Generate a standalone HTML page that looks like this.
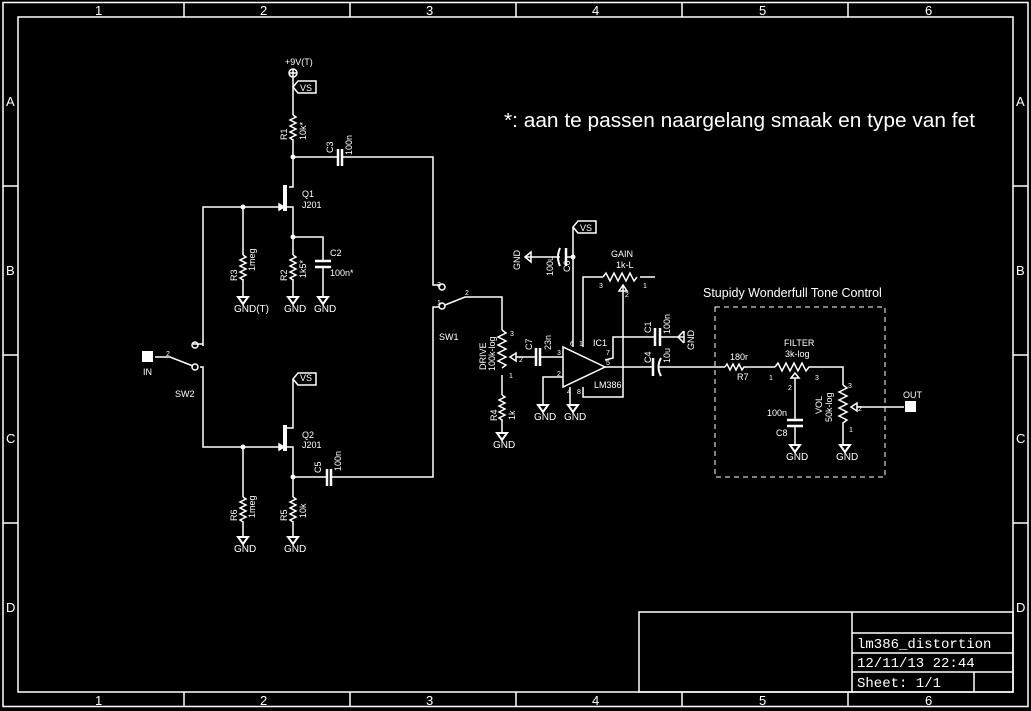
<!DOCTYPE html>
<html><head><meta charset="utf-8"><style>
html,body{margin:0;padding:0;background:#000;}
svg{display:block;font-size:9px}
text{fill:#fff;font-family:"Liberation Sans",sans-serif}
.m{font-family:"Liberation Mono",monospace}
</style></head><body>
<svg width="1031" height="711" viewBox="0 0 1031 711" xmlns="http://www.w3.org/2000/svg">
<defs>
<path id="tri" d="M-5,0 L5,0 L0,7 Z" fill="none" stroke="#fff" stroke-width="2"/>
<g id="gnd"><use href="#tri"/><text x="-9" y="15" font-size="10">GND</text></g>
<path id="rv" d="M0,0 l3,2 l-6,3 l6,3 l-6,3 l6,3 l-6,3 l6,3 l-6,3 l3,2" fill="none" stroke="#fff" stroke-width="1.5"/>
</defs>
<g stroke="#fff" fill="none" stroke-width="1.5">
<rect x="3" y="2.5" width="1025" height="704"/>
<rect x="18" y="17" width="995" height="675"/>
<path d="M184,3V17M350,3V17M516,3V17M682,3V17M848,3V17M184,692V707M350,692V707M516,692V707M682,692V707M848,692V707M3,186H18M3,355H18M3,523H18M1013,186H1028M1013,355H1028M1013,523H1028"/>
<rect x="639" y="612" width="374" height="80"/>
<path d="M852,612V692M852,633H1013M852,653H1013M852,672H1013M974,672V692"/>
</g>
<g>
<text x="95" y="15" font-size="13">1</text><text x="260" y="15" font-size="13">2</text><text x="426" y="15" font-size="13">3</text><text x="592" y="15" font-size="13">4</text><text x="759" y="15" font-size="13">5</text><text x="925" y="15" font-size="13">6</text>
<text x="95" y="705" font-size="13">1</text><text x="260" y="705" font-size="13">2</text><text x="426" y="705" font-size="13">3</text><text x="592" y="705" font-size="13">4</text><text x="759" y="705" font-size="13">5</text><text x="925" y="705" font-size="13">6</text>
<text x="6" y="106" font-size="13">A</text><text x="6" y="275" font-size="13">B</text><text x="6" y="443" font-size="13">C</text><text x="6" y="612" font-size="13">D</text>
<text x="1016" y="106" font-size="13">A</text><text x="1016" y="275" font-size="13">B</text><text x="1016" y="443" font-size="13">C</text><text x="1016" y="612" font-size="13">D</text>
</g>
<text class="m" x="857" y="648" font-size="14">lm386_distortion</text>
<text class="m" x="857" y="667" font-size="14">12/11/13 22:44</text>
<text class="m" x="857" y="687" font-size="14">Sheet: 1/1</text>

<text x="504" y="127" font-size="20" textLength="471" lengthAdjust="spacingAndGlyphs">*: aan te passen naargelang smaak en type van fet</text>
<text x="703" y="297" font-size="12.5">Stupidy Wonderfull Tone Control</text>

<g stroke="#fff" fill="none" stroke-width="1.5">
<circle cx="293" cy="73" r="4"/><path d="M289,73H297M293,69V77"/>
<path d="M293,77V115M293,139V187H289"/>
<path d="M293,87L298,81H316V93H298Z"/>
<path d="M293,157H338M342,157H433V285H439"/>
<path d="M338,149V166M342,149V166" stroke-width="2.5"/>
<path d="M285,185V211" stroke-width="4"/>
<path d="M203,346V207H279M287,207H293V255M293,279V297M293,237H323V261M323,267V297"/>
<path d="M315,261H331M315,267H331" stroke-width="2.5"/>
<path d="M243,207V255M243,279V297"/>
<path d="M279,204L284,207L279,210Z" fill="#fff"/>
<path d="M285,425V451" stroke-width="4"/>
<path d="M287,428H293V379M293,379L298,373H316V385H298Z"/>
<path d="M200,367H203V447H279M287,447H293V497M293,521V537M293,477H327M331,477H433V307H439"/>
<path d="M327,469V486M331,469V486" stroke-width="2.5"/>
<path d="M279,444L284,447L279,450Z" fill="#fff"/>
<path d="M243,447V497M243,521V537"/>
<path d="M193,344L203,344M155,357H170L193,366"/>
<circle cx="195" cy="345" r="3"/><circle cx="195" cy="367" r="3"/>
<circle cx="442" cy="287" r="3"/><circle cx="442" cy="306" r="3"/>
<path d="M445,305L465,297H502V330M502,375V395M502,419V433"/>
<path d="M502,330 l4,3 l-8,4 l8,4 l-8,4 l8,4 l-8,4 l8,4 l-8,4 l8,4 l-4,3" />
<path d="M510,357l6,-4v8z"/>
<path d="M516,357H536M540,357H563"/>
<path d="M536,348V366M540,348V366" stroke-width="2.5"/>
<path d="M563,347V387L605,367Z"/>
<path d="M563,377H543V405M570,387V405M573,347V227M573,227L578,221H596V233H578Z"/>
<path d="M573,257H566M560,257H525"/>
<path d="M566,248V266" stroke-width="2.5"/><path d="M560,248Q556,257 560,266" stroke-width="2"/>
<path d="M525,257l6,-5v10z"/>
<path d="M583,347V277H603M640,277H655"/>
<path d="M603,277 l3,-4 l4,8 l4,-8 l4,8 l4,-8 l4,8 l4,-8 l4,8 l3,-4"/>
<path d="M623,285V397H583V387M623,285l-4,6h8z"/>
<path d="M605,360L613,358V337H655M660,337H684M684,331V343M684,331L678,337L684,343"/>
<path d="M655,328V346M660,328V346" stroke-width="2.5"/>
<path d="M605,367H653M659,367H725"/>
<path d="M653,358V376" stroke-width="2.5"/><path d="M661,358Q656,367 661,376" stroke-width="2"/>
<rect x="715" y="307" width="170" height="170" stroke-dasharray="5,4" stroke-width="1"/>
<path d="M725,367 l2,-3 l3,6 l3,-6 l3,6 l3,-6 l3,6 l2,-3H775"/>
<path d="M775,367 l3,-4 l4,8 l4,-8 l4,8 l4,-8 l4,8 l4,-8 l4,8 l3,-4H843V385"/>
<path d="M795,373l-4,5h8zM795,378V420M795,426V445"/>
<path d="M787,420H803M787,426H803" stroke-width="2.5"/>
<path d="M843,385 l4,3 l-8,4 l8,4 l-8,4 l8,4 l-8,4 l8,4 l-8,4 l8,4 l-4,3V445"/>
<path d="M851,407l6,-4v8zM857,407H904"/>
</g>
<rect x="142" y="351" width="11" height="11" fill="#fff"/>
<rect x="905" y="401" width="11" height="11" fill="#fff"/>
<use href="#rv" x="293" y="115"/><use href="#rv" x="293" y="255"/><use href="#rv" x="243" y="255"/>
<use href="#rv" x="293" y="497"/><use href="#rv" x="243" y="497"/><use href="#rv" x="502" y="395"/>
<g fill="#fff">
<circle cx="293" cy="157" r="2.5"/><circle cx="243" cy="207" r="2.5"/><circle cx="293" cy="237" r="2.5"/>
<circle cx="243" cy="447" r="2.5"/><circle cx="293" cy="477" r="2.5"/><circle cx="573" cy="257" r="2.5"/>
</g>
<use href="#tri" x="243" y="297"/><use href="#gnd" x="293" y="297"/><use href="#gnd" x="323" y="297"/>
<use href="#gnd" x="243" y="537"/><use href="#gnd" x="293" y="537"/><use href="#gnd" x="502" y="433"/>
<use href="#gnd" x="543" y="405"/><use href="#gnd" x="573" y="405"/><use href="#gnd" x="795" y="445"/><use href="#gnd" x="845" y="445"/>
<text x="285" y="65">+9V(T)</text><text x="300" y="91">VS</text><text x="300" y="381">VS</text><text x="580" y="231">VS</text>
<text transform="translate(287,140) rotate(-90)">R1</text><text transform="translate(306,140) rotate(-90)">10k*</text>
<text transform="translate(333,153) rotate(-90)">C3</text><text transform="translate(352,155) rotate(-90)">100n</text>
<text x="302" y="197">Q1</text><text x="302" y="208">J201</text>
<text x="330" y="256">C2</text><text x="330" y="276">100n*</text>
<text transform="translate(237,281) rotate(-90)">R3</text><text transform="translate(255,271) rotate(-90)">1meg</text>
<text transform="translate(287,281) rotate(-90)">R2</text><text transform="translate(306,278) rotate(-90)">1k5*</text>
<text x="234" y="312" font-size="10">GND(T)</text>
<text x="302" y="438">Q2</text><text x="302" y="448">J201</text>
<text transform="translate(321,473) rotate(-90)">C5</text><text transform="translate(341,471) rotate(-90)">100n</text>
<text transform="translate(237,521) rotate(-90)">R6</text><text transform="translate(255,518) rotate(-90)">1meg</text>
<text transform="translate(287,521) rotate(-90)">R5</text><text transform="translate(306,518) rotate(-90)">10k</text>
<text x="143" y="375">IN</text><text x="166" y="356" font-size="7">2</text><text x="175" y="397">SW2</text>
<text x="439" y="340">SW1</text><text x="437" y="287" font-size="7">3</text><text x="437" y="305" font-size="7">1</text><text x="465" y="295" font-size="7">2</text>
<text transform="translate(486,370) rotate(-90)">DRIVE</text><text transform="translate(495,371) rotate(-90)">100k-log</text>
<text x="510" y="336" font-size="7">3</text><text x="519" y="362" font-size="7">2</text><text x="509" y="378" font-size="7">1</text>
<text transform="translate(497,421) rotate(-90)">R4</text><text transform="translate(515,420) rotate(-90)">1k</text>
<text transform="translate(532,350) rotate(-90)">C7</text><text transform="translate(551,350) rotate(-90)">23n</text>
<text transform="translate(520,270) rotate(-90)">GND</text>
<text transform="translate(553,276) rotate(-90)">100u</text><text transform="translate(570,272) rotate(-90)">C6</text>
<text x="611" y="257">GAIN</text><text x="616" y="268">1k-L</text>
<text x="599" y="288" font-size="7">3</text><text x="643" y="288" font-size="7">1</text><text x="625" y="297" font-size="7">2</text>
<text x="593" y="346">IC1</text><text x="594" y="388">LM386</text>
<text x="606" y="355" font-size="7">7</text><text x="606" y="365" font-size="7">5</text><text x="557" y="355" font-size="7">3</text><text x="557" y="376" font-size="7">2</text><text x="579" y="346" font-size="7">1</text><text x="570" y="346" font-size="7">6</text><text x="567" y="394" font-size="7">4</text><text x="577" y="394" font-size="7">8</text>
<text transform="translate(651,333) rotate(-90)">C1</text><text transform="translate(670,334) rotate(-90)">100n</text>
<text transform="translate(694,350) rotate(-90)">GND</text>
<text transform="translate(651,363) rotate(-90)">C4</text><text transform="translate(670,363) rotate(-90)">10u</text>
<text x="730" y="360">180r</text><text x="737" y="380">R7</text>
<text x="784" y="346">FILTER</text><text x="785" y="357">3k-log</text>
<text x="769" y="380" font-size="7">1</text><text x="815" y="380" font-size="7">3</text><text x="788" y="390" font-size="7">2</text>
<text x="767" y="416">100n</text><text x="776" y="436">C8</text>
<text transform="translate(822,414) rotate(-90)">VOL</text><text transform="translate(832,422) rotate(-90)">50k-log</text>
<text x="848" y="388" font-size="7">3</text><text x="858" y="411" font-size="7">2</text><text x="849" y="432" font-size="7">1</text>
<text x="903" y="398">OUT</text>
</svg>
</body></html>
